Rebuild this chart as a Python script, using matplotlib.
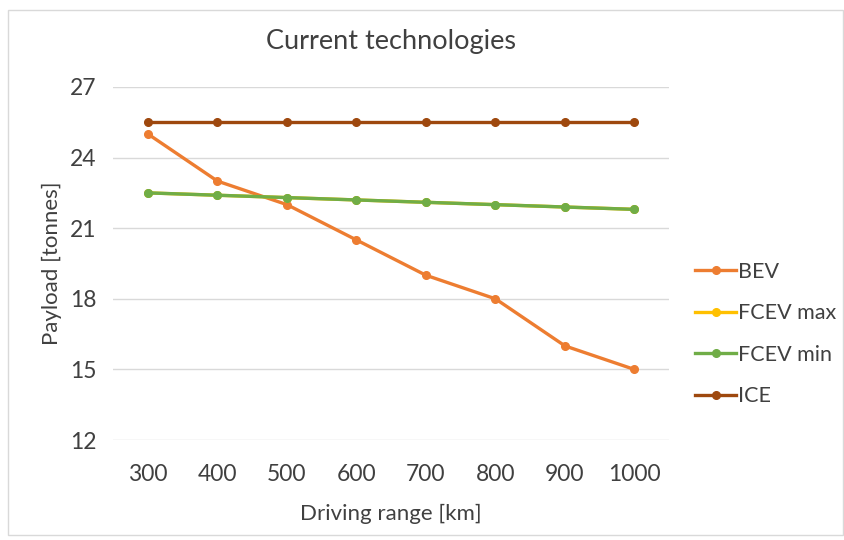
import matplotlib.pyplot as plt
from matplotlib.patches import Rectangle

plt.rcParams['font.family'] = ['Lato', 'DejaVu Sans']

ranges = ['300', '400', '500', '600', '700', '800', '900', '1000']
bev = [25.0, 23.0, 22.0, 20.5, 19.0, 18.0, 16.0, 15.0]
fcev_max = [22.5, 22.4, 22.3, 22.2, 22.1, 22.0, 21.9, 21.8]
fcev_min = [22.5, 22.4, 22.3, 22.2, 22.1, 22.0, 21.9, 21.8]
ice = [25.5, 25.5, 25.5, 25.5, 25.5, 25.5, 25.5, 25.5]

series = [
    ('BEV', bev, '#ED7D31'),
    ('FCEV max', fcev_max, '#FFC000'),
    ('FCEV min', fcev_min, '#70AD47'),
    ('ICE', ice, '#9E480E'),
]

txt = '#404040'
fig = plt.figure(figsize=(8.45, 5.4), dpi=100)
fig.patches.append(Rectangle((0.0095, 0.009), 0.988, 0.972, transform=fig.transFigure,
                             fill=False, edgecolor='#D9D9D9', linewidth=1))
ax = fig.add_axes([0.134, 0.185, 0.658, 0.654])

x = range(len(ranges))
for name, vals, col in series:
    ax.plot(x, vals, color=col, linewidth=2.4, marker='o', markersize=5.5, label=name)

ax.set_xlim(-0.5, len(ranges) - 0.5)
ax.set_ylim(12, 27)
ax.set_yticks([12, 15, 18, 21, 24, 27])
ax.set_xticks(list(x))
ax.set_xticklabels(ranges)
ax.grid(axis='y', color='#D9D9D9', linewidth=1)
ax.set_axisbelow(True)
for s in ax.spines.values():
    s.set_visible(False)
ax.tick_params(axis='x', length=0, labelsize=16.5, colors=txt, pad=17)
ax.tick_params(axis='y', length=0, labelsize=16.5, colors=txt, pad=12)
ax.set_xlabel('Driving range [km]', fontsize=16, color=txt, labelpad=14)
ax.set_ylabel('Payload [tonnes]', fontsize=16, color=txt, labelpad=6)
ax.set_title('Current technologies', fontsize=19.5, color=txt, pad=27)

ax.legend(loc='center left', bbox_to_anchor=(1.02, 0.30), frameon=False,
          fontsize=15.5, labelcolor=txt, handlelength=1.9, handletextpad=0.1,
          labelspacing=1.0, borderaxespad=0.3)

fig.savefig('out.png', dpi=100)
